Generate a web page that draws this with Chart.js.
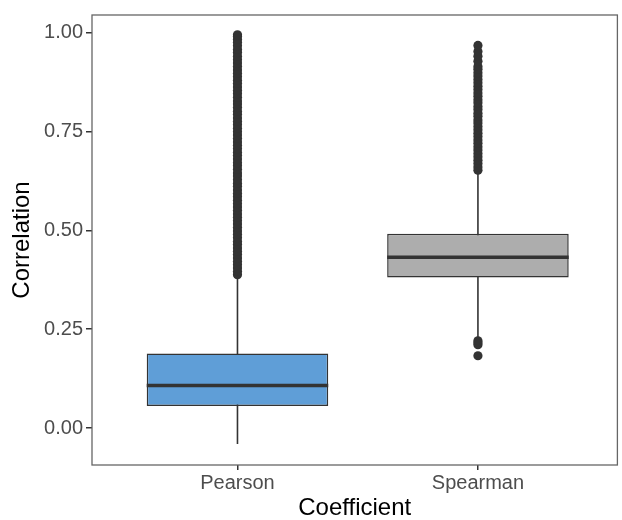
<!DOCTYPE html>
<html>
<head>
<meta charset="utf-8">
<script src="https://cdn.jsdelivr.net/npm/chart.js@4"></script>
<style>
	html, body { margin: 0; padding: 0; background: #fff; }
	#wrap { width: 622px; height: 520px; }
</style>
</head>
<body>
<div id="wrap"><canvas id="chart" width="622" height="520"></canvas></div>
<script>
	// box statistics
	var categories = ['Pearson', 'Spearman'];
	var boxFill = ['#5F9ED7', '#ADADAD'];
	var q1 = [0.056, 0.381];
	var q3 = [0.189, 0.491];
	var medians = [0.108, 0.432];
	var whiskerLow = [-0.040, 0.230];
	var whiskerHigh = [0.380, 0.645];

	// outliers, dense columns
	var pearsonOutliers = [0.388, 0.396, 0.405, 0.413, 0.421, 0.430, 0.439, 0.447, 0.455, 0.464,
		0.472, 0.481, 0.490, 0.498, 0.507, 0.516, 0.524, 0.533, 0.541, 0.550, 0.559, 0.567,
		0.576, 0.585, 0.593, 0.602, 0.611, 0.619, 0.628, 0.637, 0.645, 0.654, 0.663, 0.671,
		0.680, 0.689, 0.697, 0.706, 0.715, 0.723, 0.732, 0.741, 0.749, 0.758, 0.767, 0.775,
		0.784, 0.793, 0.801, 0.810, 0.819, 0.827, 0.836, 0.845, 0.853, 0.862, 0.871, 0.879,
		0.888, 0.897, 0.905, 0.914, 0.923, 0.931, 0.940, 0.949, 0.957, 0.966, 0.975, 0.983,
		0.990, 0.994];
	var spearmanOutliers = [0.183, 0.211, 0.216, 0.221,
		0.652, 0.660, 0.669, 0.677, 0.686, 0.694, 0.703, 0.711, 0.720, 0.728, 0.737, 0.745,
		0.754, 0.762, 0.771, 0.779, 0.788, 0.796, 0.805, 0.813, 0.822, 0.830, 0.839, 0.847,
		0.856, 0.864, 0.873, 0.881, 0.890, 0.898, 0.907, 0.914, 0.927, 0.940, 0.952, 0.967];
	var outliers = [pearsonOutliers, spearmanOutliers];

	var yTicks = [0, 0.25, 0.5, 0.75, 1];
	var xTicks = [1, 2];

	var FONT = "'Liberation Sans', Arial, sans-serif";
	var INK = '#333333';

	var datasets = [];

	// boxes (Q1..Q3 floating bars)
	datasets.push({
		type: 'bar',
		data: categories.map(function (c, i) {
			return { x: i + 1, y: [q1[i], q3[i]] };
		}),
		backgroundColor: boxFill,
		borderColor: INK,
		borderWidth: 1.5,
		borderSkipped: false,
		barPercentage: 0.755,
		categoryPercentage: 1,
		order: 1
	});

	// whiskers
	categories.forEach(function (c, i) {
		datasets.push({
			type: 'line',
			data: [{ x: i + 1, y: whiskerLow[i] }, { x: i + 1, y: whiskerHigh[i] }],
			borderColor: INK,
			borderWidth: 1.6,
			pointRadius: 0,
			order: 2
		});
	});

	// outlier points
	categories.forEach(function (c, i) {
		datasets.push({
			type: 'line',
			data: outliers[i].map(function (v) {
				return { x: i + 1, y: v };
			}),
			showLine: false,
			pointRadius: 4.6,
			pointBorderWidth: 0,
			pointBackgroundColor: INK,
			order: 0
		});
	});

	var boxExtras = {
		id: 'boxExtras',
		afterDatasetsDraw: function (chart) {
			var ctx = chart.ctx;
			var y = chart.scales.y;
			var bars = chart.getDatasetMeta(0).data;
			ctx.save();
			ctx.strokeStyle = INK;
			ctx.lineWidth = 3.5;
			medians.forEach(function (m, i) {
				var bar = bars[i];
				var py = y.getPixelForValue(m);
				ctx.beginPath();
				ctx.moveTo(bar.x - bar.width / 2, py);
				ctx.lineTo(bar.x + bar.width / 2, py);
				ctx.stroke();
			});
			// panel border
			var a = chart.chartArea;
			ctx.strokeStyle = '#666666';
			ctx.lineWidth = 1.3;
			ctx.strokeRect(a.left, a.top, a.right - a.left, a.bottom - a.top);
			ctx.restore();
		}
	};

	new Chart(document.getElementById('chart'), {
		type: 'bar',
		data: { datasets: datasets },
		plugins: [boxExtras],
		options: {
			responsive: false,
			animation: false,
			layout: { padding: { top: 12, right: 2, left: 0, bottom: 0 } },
			plugins: {
				legend: { display: false },
				tooltip: { enabled: false }
			},
			scales: {
				x: {
					type: 'linear',
					min: 0.395,
					max: 2.58,
					offset: false,
					afterBuildTicks: function (scale) {
						scale.ticks = xTicks.map(function (v) { return { value: v }; });
					},
					afterFit: function (scale) {
						scale.height = 55;
					},
					ticks: {
						autoSkip: false,
						maxRotation: 0,
						padding: 1,
						color: '#4D4D4D',
						font: { family: FONT, size: 20 },
						callback: function (value, index) {
							return categories[index];
						}
					},
					grid: {
						offset: false,
						drawOnChartArea: false,
						drawTicks: true,
						tickLength: 5,
						color: INK,
						lineWidth: 1.5
					},
					border: { display: false },
					title: {
						display: true,
						text: 'Coefficient',
						color: '#000',
						padding: 0,
						font: { family: FONT, size: 24, lineHeight: 1 }
					}
				},
				y: {
					type: 'linear',
					min: -0.093,
					max: 1.044,
					afterBuildTicks: function (scale) {
						scale.ticks = yTicks.map(function (v) { return { value: v }; });
					},
					afterFit: function (scale) {
						scale.width = 92;
					},
					ticks: {
						padding: 3,
						color: '#4D4D4D',
						font: { family: FONT, size: 20 },
						callback: function (value) {
							return value.toFixed(2);
						}
					},
					grid: {
						drawOnChartArea: false,
						drawTicks: true,
						tickLength: 6,
						color: INK,
						lineWidth: 1.5
					},
					border: { display: false },
					title: {
						display: true,
						text: 'Correlation',
						color: '#000',
						padding: { top: 10, bottom: 0 },
						font: { family: FONT, size: 24, lineHeight: 1 }
					}
				}
			}
		}
	});
</script>
</body>
</html>
